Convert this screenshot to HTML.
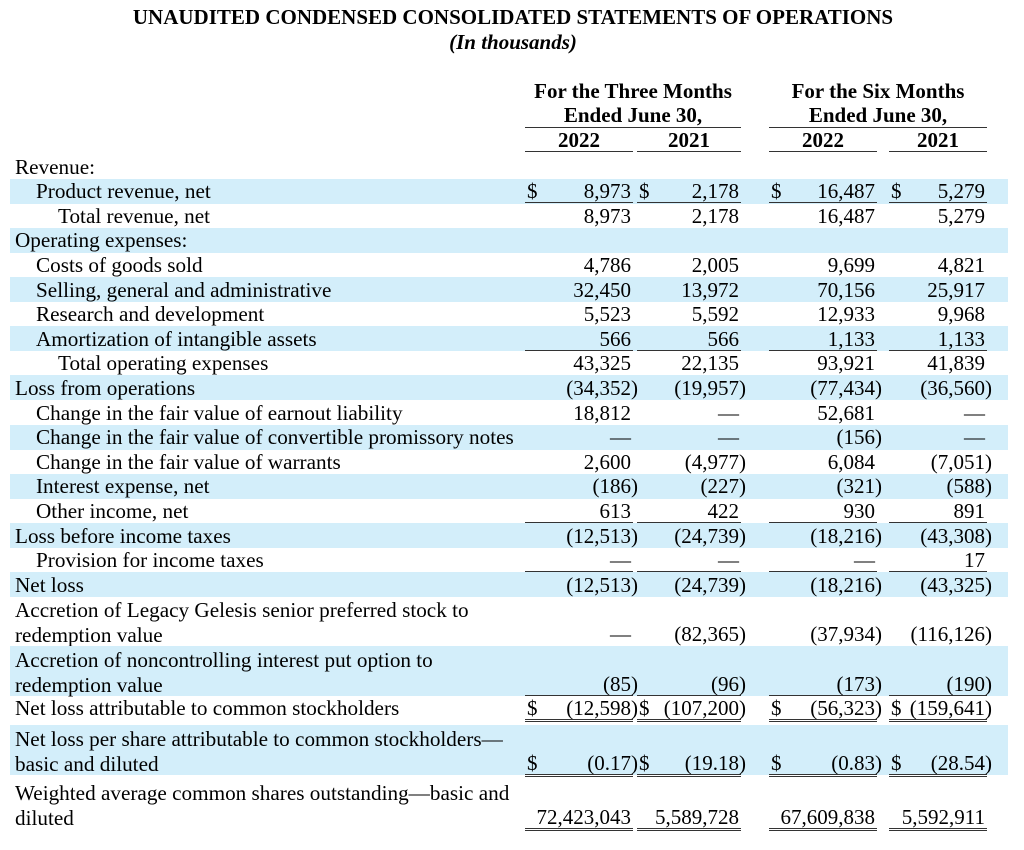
<!DOCTYPE html>
<html><head><meta charset="utf-8">
<style>
body{margin:0;width:1024px;height:850px;background:#fff;position:relative;overflow:hidden;font-family:"Liberation Serif",serif;color:#000}
.a{position:absolute;white-space:nowrap}
.band{position:absolute;left:10px;width:998px;background:#d3eefa}
.lbl{font-size:21.2px;line-height:22px}
.cell{position:absolute;font-size:21px;line-height:22px;height:22px}
.cell .d{position:absolute;left:2px;top:0}
.cell .v{position:absolute;right:2px;top:0}
.hdr{position:absolute;font-weight:bold;font-size:21px;text-align:center;line-height:24px}
</style></head>
<body>
<div class="a" style="left:0;width:1026px;text-align:center;top:5px;font-weight:bold;font-size:21px">UNAUDITED CONDENSED CONSOLIDATED STATEMENTS OF OPERATIONS</div>
<div class="a" style="left:0;width:1026px;text-align:center;top:30px;font-weight:bold;font-style:italic;font-size:21px">(In thousands)</div>

<div class="hdr" style="left:525px;width:216px;top:79px">For the Three Months<br>Ended June 30,</div>
<div class="a" style="left:525px;width:216px;top:127px;border-top:1.5px solid #333"></div>
<div class="hdr" style="left:769px;width:218px;top:79px">For the Six Months<br>Ended June 30,</div>
<div class="a" style="left:769px;width:218px;top:127px;border-top:1.5px solid #333"></div>

<div id="root"></div>
<script>
const cols=[[525,633],[637,741],[769,877],[889,987]];
const years=['2022','2021','2022','2021'];
// rows: [label, indent, lines, shaded, values, dollar, underline(0 none,1 single,2 double)]
const rows=[
['Revenue:',0,1,0,null,0,0],
['Product revenue, net',1,1,1,['8,973','2,178','16,487','5,279'],1,1],
['Total revenue, net',2,1,0,['8,973','2,178','16,487','5,279'],0,0],
['Operating expenses:',0,1,1,null,0,0],
['Costs of goods sold',1,1,0,['4,786','2,005','9,699','4,821'],0,0],
['Selling, general and administrative',1,1,1,['32,450','13,972','70,156','25,917'],0,0],
['Research and development',1,1,0,['5,523','5,592','12,933','9,968'],0,0],
['Amortization of intangible assets',1,1,1,['566','566','1,133','1,133'],0,1],
['Total operating expenses',2,1,0,['43,325','22,135','93,921','41,839'],0,0],
['Loss from operations',0,1,1,['(34,352)','(19,957)','(77,434)','(36,560)'],0,0],
['Change in the fair value of earnout liability',1,1,0,['18,812','—','52,681','—'],0,0],
['Change in the fair value of convertible promissory notes',1,1,1,['—','—','(156)','—'],0,0],
['Change in the fair value of warrants',1,1,0,['2,600','(4,977)','6,084','(7,051)'],0,0],
['Interest expense, net',1,1,1,['(186)','(227)','(321)','(588)'],0,0],
['Other income, net',1,1,0,['613','422','930','891'],0,1],
['Loss before income taxes',0,1,1,['(12,513)','(24,739)','(18,216)','(43,308)'],0,0],
['Provision for income taxes',1,1,0,['—','—','—','17'],0,1],
['Net loss',0,1,1,['(12,513)','(24,739)','(18,216)','(43,325)'],0,0],
['Accretion of Legacy Gelesis senior preferred stock to<br>redemption value',0,2,0,['—','(82,365)','(37,934)','(116,126)'],0,0],
['Accretion of noncontrolling interest put option to<br>redemption value',0,2,1,['(85)','(96)','(173)','(190)'],0,1],
['Net loss attributable to common stockholders',0,1,0,['(12,598)','(107,200)','(56,323)','(159,641)'],1,2],
['Net loss per share attributable to common stockholders—<br>basic and diluted',0,2,1,['(0.17)','(19.18)','(0.83)','(28.54)'],1,2],
['Weighted average common shares outstanding—basic and<br>diluted',0,2,0,['72,423,043','5,589,728','67,609,838','5,592,911'],0,2]
];
const root=document.getElementById('root');
years.forEach((y,i)=>{
 const d=document.createElement('div');
 d.className='hdr';
 
 
 d.style.cssText=`left:${cols[i][0]}px;width:${cols[i][1]-cols[i][0]}px;top:129px;border-bottom:1.5px solid #333;height:22px;line-height:22px`;
 d.textContent=y;root.appendChild(d);
});
let yPos=154;
const gaps={21:5,22:5};
rows.forEach((r,idx)=>{
 if(gaps[idx]) yPos+=gaps[idx];
 const h=r[2]===1?24.6:49.5;
 if(r[3]){
  const b=document.createElement('div');b.className='band';
  
  
  b.style.top=yPos+'px';b.style.height=(h+0.5)+'px';root.appendChild(b);
 }
 const l=document.createElement('div');l.className='a lbl';
 
 
 l.style.left=[15,36,58][r[1]]+'px';
 l.style.top=(yPos+1.5)+'px';
 l.style.lineHeight=(r[2]===2?'25px':'22px');
 l.innerHTML=r[0];root.appendChild(l);
 if(r[4]){
  r[4].forEach((v,i)=>{
   const c=document.createElement('div');c.className='cell';
   
   
   const vt=yPos+h-23;
   c.style.left=cols[i][0]+'px';c.style.width=(cols[i][1]-cols[i][0])+'px';c.style.top=vt+'px';
   if(r[6]===1)c.style.borderBottom='1.3px solid #333';
   if(r[6]===2)c.style.borderBottom='3.5px double #333';
   const paren=v.endsWith(')');
   c.innerHTML=(r[5]?'<span class="d">$</span>':'')+`<span class="v" style="right:${paren?-5:2}px">${v}</span>`;
   root.appendChild(c);
  });
 }
 yPos+=h;
});
</script>
</body></html>
